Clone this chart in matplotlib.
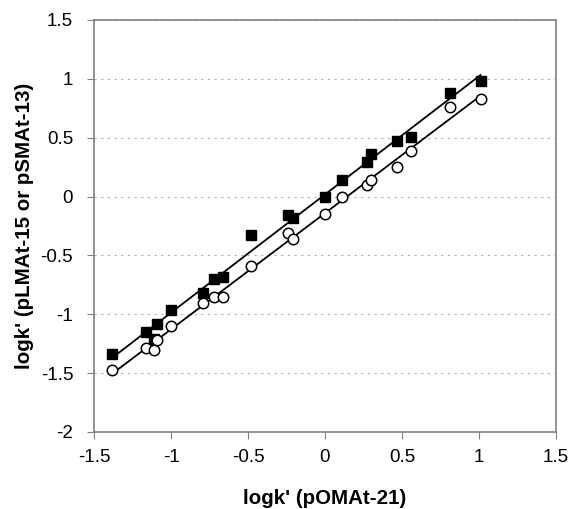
import numpy as np
import matplotlib
matplotlib.use('Agg')
import matplotlib.pyplot as plt

plt.rcParams['font.family'] = ['Liberation Sans', 'DejaVu Sans']

# logk' (pOMAt-21) shared by both series
x_omat = [-1.38, -1.16, -1.11, -1.09, -1.0, -0.79, -0.72, -0.66, -0.48, -0.24, -0.21,
          0.0, 0.11, 0.27, 0.30, 0.47, 0.56, 0.81, 1.01]
# filled squares (pLMAt-15)
y_lmat = [-1.34, -1.15, -1.21, -1.085, -0.96, -0.82, -0.70, -0.686, -0.33, -0.16, -0.18,
          0.0, 0.14, 0.29, 0.36, 0.47, 0.51, 0.88, 0.98]
# open circles (pSMAt-13)
y_smat = [-1.47, -1.29, -1.30, -1.22, -1.10, -0.90, -0.85, -0.85, -0.59, -0.31, -0.36,
          -0.148, 0.0, 0.10, 0.14, 0.25, 0.39, 0.76, 0.83]

xticks = [-1.5, -1, -0.5, 0, 0.5, 1, 1.5]
yticks = [-2, -1.5, -1, -0.5, 0, 0.5, 1, 1.5]

fig = plt.figure(figsize=(5.73, 5.09), dpi=100)
ax = fig.add_axes([94/573, 1-432/509, (556-94)/573, (432-20)/509])

x = np.array(x_omat)
xs = np.array([x.min(), x.max()])
for yv in (y_lmat, y_smat):
    k, b = np.polyfit(x, np.array(yv), 1)
    ax.plot(xs, k*xs + b, color='black', lw=1.3, zorder=2)

ax.plot(x_omat, y_lmat, 's', color='black', ms=7.5, zorder=3)
ax.plot(x_omat, y_smat, 'o', mfc='white', mec='black', mew=1.1, ms=7.5, zorder=3)

ax.set_xlim(-1.5, 1.5)
ax.set_ylim(-2, 1.5)
ax.set_xticks(xticks)
ax.set_yticks(yticks)
ax.set_xticklabels([f'{v:g}' for v in xticks])
ax.set_yticklabels([f'{v:g}' for v in yticks])
ax.tick_params(labelsize=13.5, length=5, color='#808080')
ax.tick_params(axis='y', pad=10)
ax.tick_params(axis='x', pad=7)
ax.yaxis.grid(True, linestyle=(0, (2, 4)), color='#b0b0b0', lw=0.8)
ax.set_axisbelow(True)
for s in ax.spines.values():
    s.set_color('#808080')
    s.set_linewidth(1.2)

ax.set_xlabel("logk' (pOMAt-21)", fontsize=14.8, fontweight='bold', labelpad=17)
ax.set_ylabel("logk' (pLMAt-15 or pSMAt-13)", fontsize=14.8, fontweight='bold', labelpad=5)

fig.savefig('out.png', dpi=100)
